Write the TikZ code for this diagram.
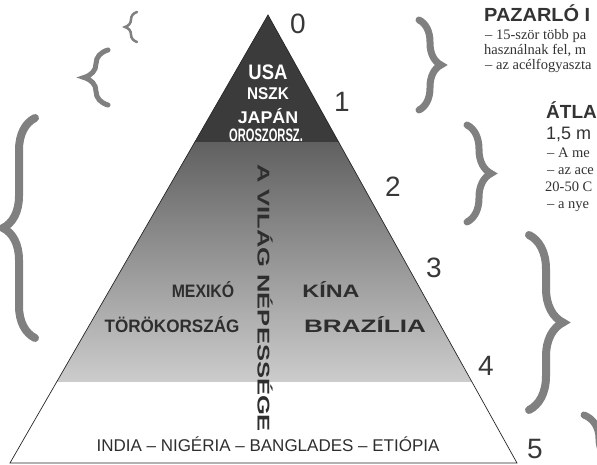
\documentclass[tikz,border=0pt]{standalone}
\usepackage{fontspec}
\setmainfont{Liberation Serif}
\setsansfont{Liberation Sans}
\usetikzlibrary{decorations.pathreplacing}

\tikzset{
  tiernum/.style={font=\sffamily\fontsize{28}{28}\selectfont, text=black!78, inner sep=0pt},
  richlabel/.style={font=\sffamily\bfseries\fontsize{17}{17}\selectfont, text=white, inner sep=0pt},
  midlabel/.style={font=\sffamily\bfseries\fontsize{18}{18}\selectfont, text=black!82, inner sep=0pt},
  baselabel/.style={font=\sffamily\fontsize{17}{17}\selectfont, text=black!82, inner sep=0pt},
  headline/.style={font=\sffamily\bfseries\fontsize{19}{19}\selectfont, text=black!80, inner sep=0pt, anchor=base west},
  subline/.style={font=\sffamily\fontsize{18}{18}\selectfont, text=black!80, inner sep=0pt, anchor=base west},
  noteline/.style={font=\rmfamily\fontsize{14.5}{14.5}\selectfont, text=black!80, inner sep=0pt, anchor=base west},
  curl/.style={decorate, decoration={brace, amplitude=#1}, draw=black!50, line cap=round}
}

\begin{document}
\begin{tikzpicture}[x=1pt, y=1pt]
		%%%%% START %%%%%
		\useasboundingbox (0,0) rectangle (597,465);
		\clip (0,0) rectangle (597,465);
		
		\coordinate (top) at (268,450);
		\coordinate (bl) at (10,2);
		\coordinate (br) at (517,2);
		
		\begin{scope}
			\clip (top) -- (bl) -- (br) -- cycle;
			\fill[black!77] (0,322) rectangle (597,465);
			\shade[top color=black!62, bottom color=black!20] (0,83) rectangle (597,322);
		\end{scope}
		\draw[line width=0.7pt, black!85] (top) -- (bl) -- (br) -- cycle;
		
		\node[richlabel, font=\sffamily\bfseries\fontsize{21}{21}\selectfont] (usa) at (268,393) {\scalebox{0.88}[1]{USA}};
		\node[richlabel] (nszk) at (268,371) {\scalebox{0.9}[1]{NSZK}};
		\node[richlabel] (japan) at (268,349) {\scalebox{1.05}[1]{JAPÁN}};
		\node[richlabel, font=\sffamily\bfseries\fontsize{18}{18}\selectfont] (orosz) at (266,330) {\scalebox{0.62}[1]{OROSZORSZ.}};
		
		\node[midlabel] (mexiko) at (203,175) {\scalebox{0.88}[1]{MEXIKÓ}};
		\node[midlabel] (kina) at (331,175) {\scalebox{1.3}[1]{KÍNA}};
		\node[midlabel] (torok) at (172,140) {\scalebox{0.95}[1]{TÖRÖKORSZÁG}};
		\node[midlabel] (brazil) at (365,140) {\scalebox{1.45}[1]{BRAZÍLIA}};
		
		\node[midlabel, font=\sffamily\bfseries\fontsize{17}{17}\selectfont, rotate=-90] (world) at (265,167) {\scalebox{1.5}[1]{A VILÁG NÉPESSÉGE}};
		
		\node[baselabel] (poor) at (268,21) {INDIA – NIGÉRIA – BANGLADES – ETIÓPIA};
		
		\node[tiernum] (n0) at (298,441) {0};
		\node[tiernum] (n1) at (342,363) {1};
		\node[tiernum] (n2) at (393,278) {2};
		\node[tiernum] (n3) at (434,197) {3};
		\node[tiernum] (n4) at (486,99) {4};
		\node[tiernum] (n5) at (535,16) {5};
		
		% braces
		\draw[curl=12, line width=2.5pt] (137,423) -- (137,453);
		\draw[curl=24, line width=5pt] (108,360) -- (108,415);
		\draw[curl=32, line width=8pt] (35,127) -- (35,347);
		\draw[curl=22, line width=7pt] (419,445) -- (419,355);
		\draw[curl=24, line width=7pt] (467,340) -- (467,243);
		\draw[curl=34, line width=8pt] (529,230) -- (529,55);
		\draw[curl=30, line width=7pt] (584,50) -- (584,-45);
		
		% text on the right
		\node[headline] (pazarlo) at (484,443) {\scalebox{1.05}[1]{PAZARLÓ I}};
		\node[noteline] (p1) at (485,425) {– 15-ször több pa};
		\node[noteline] (p2) at (484,410) {használnak fel, m};
		\node[noteline] (p3) at (485,395) {– az acélfogyaszta};
		
		\node[headline] (atlag) at (546,346) {ÁTLA};
		\node[subline] (a0) at (546,325) {1,5 m};
		\node[noteline] (a1) at (547,307) {– A me};
		\node[noteline] (a2) at (547,290) {– az ace};
		\node[noteline] (a3) at (545,273) {20-50 C};
		\node[noteline] (a4) at (547,256) {– a nye};
		%%%%% END %%%%%
\end{tikzpicture}
\end{document}
